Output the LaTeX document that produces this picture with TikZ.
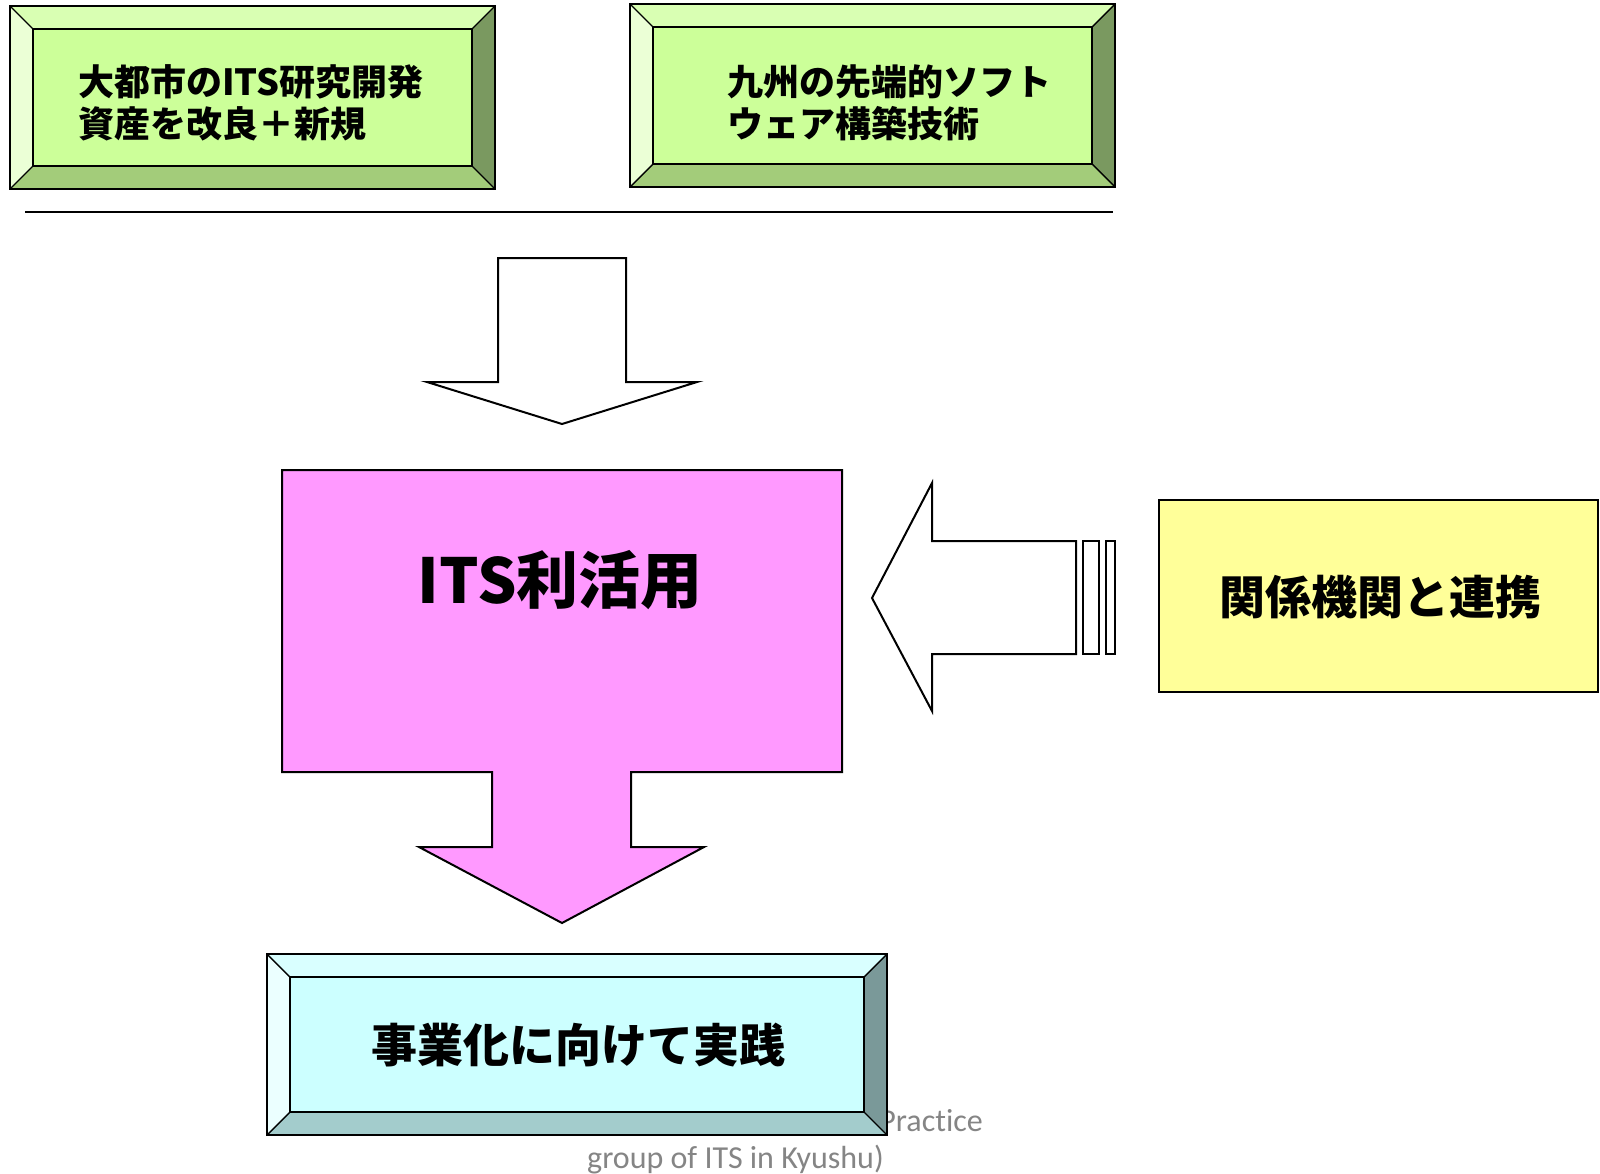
\documentclass[tikz,border=0pt]{standalone}
\usepackage{fontspec}
\newfontfamily\jpfont{Noto Sans CJK JP}
\newfontfamily\notefont{Carlito}[Ligatures=NoCommon]
\definecolor{grnF}{HTML}{CCFF99}
\definecolor{grnT}{HTML}{D9FFB3}
\definecolor{grnL}{HTML}{EBFFD6}
\definecolor{grnR}{HTML}{7A9960}
\definecolor{grnB}{HTML}{A3CC7A}
\definecolor{cynF}{HTML}{CCFFFF}
\definecolor{cynT}{HTML}{D9FFFF}
\definecolor{cynL}{HTML}{EBFFFF}
\definecolor{cynR}{HTML}{7A9999}
\definecolor{cynB}{HTML}{A3CCCC}
\definecolor{magF}{HTML}{FF99FF}
\definecolor{yelF}{HTML}{FFFF99}
\definecolor{noteG}{HTML}{858585}
\newcommand{\bevelfill}[6]{%
 \fill[#6T] (#1,#2) -- (#3,#2) -- ({#3-#5},{#2+#5}) -- ({#1+#5},{#2+#5}) -- cycle;
 \fill[#6B] (#1,#4) -- (#3,#4) -- ({#3-#5},{#4-#5}) -- ({#1+#5},{#4-#5}) -- cycle;
 \fill[#6L] (#1,#2) -- ({#1+#5},{#2+#5}) -- ({#1+#5},{#4-#5}) -- (#1,#4) -- cycle;
 \fill[#6R] (#3,#2) -- ({#3-#5},{#2+#5}) -- ({#3-#5},{#4-#5}) -- (#3,#4) -- cycle;
 \draw[outl] (#1,#2) rectangle (#3,#4);
 \draw[diag] (#1,#2) -- ({#1+#5},{#2+#5}) (#3,#2) -- ({#3-#5},{#2+#5})
   (#1,#4) -- ({#1+#5},{#4-#5}) (#3,#4) -- ({#3-#5},{#4-#5});
}
\begin{document}
\begin{tikzpicture}[x=1pt,y=-1pt,
  outl/.style={draw=black,line width=2pt},
  diag/.style={draw=black,line width=1.4pt},
  face/.style={outl,rectangle,inner sep=0pt},
  jptext/.style={font=\jpfont\bfseries\fontsize{36}{42}\selectfont,align=left,inner sep=0pt},
  bigtext/.style={font=\jpfont\bfseries\fontsize{46}{52}\selectfont,inner sep=0pt},
  note/.style={font=\notefont\fontsize{32}{38}\selectfont,text=noteG,inner sep=0pt},
  blockarrow/.style={draw=black,line width=2pt,line join=miter}]
\useasboundingbox[fill=white] (0,0) rectangle (1600,1173);

% gray note (partly hidden behind the bottom box)
\node[note,anchor=base east] (note1) at (983,1131) {Practice};
\node[note,anchor=base east] (note2) at (884,1168) {group of ITS in Kyushu)};

% top-left bevel box
\bevelfill{10}{6}{495}{189}{23}{grn}
\node[face,fill=grnF,minimum width=439pt,minimum height=137pt] (tlbox) at (252.5,97.5) {};
\node[jptext,anchor=west] (tltext) at (78,103) {大都市のITS研究開発\\資産を改良＋新規};

% top-right bevel box
\bevelfill{630}{4}{1115}{187}{23}{grn}
\node[face,fill=grnF,minimum width=439pt,minimum height=137pt] (trbox) at (872.5,95.5) {};
\node[jptext,anchor=west] (trtext) at (727,103) {九州の先端的ソフト\\ウェア構築技術};

% separator line
\coordinate (lineL) at (25,212);
\coordinate (lineR) at (1113,212);
\draw[line width=2pt] (lineL) -- (lineR);

% white down arrow
\draw[blockarrow,fill=white] (498,258) -- (626,258) -- (626,382) -- (697,382) -- (562,424)
  -- (427,382) -- (498,382) -- cycle;

% magenta box with down arrow
\draw[blockarrow,fill=magF] (282,470) -- (842,470) -- (842,772) -- (631,772) -- (631,847)
  -- (704,847) -- (562,923) -- (419,847) -- (492,847) -- (492,772) -- (282,772) -- cycle;
\node[font=\jpfont\bfseries\fontsize{62}{68}\selectfont,inner sep=0pt] (its) at (560,580) {ITS利活用};

% left arrow with bars
\draw[blockarrow,fill=white] (872,598) -- (932,483) -- (932,541) -- (1076,541) -- (1076,654)
  -- (932,654) -- (932,711) -- cycle;
\draw[outl,fill=white] (1083,541) rectangle (1099,654);
\draw[outl,fill=white] (1106,541) rectangle (1115,654);

% yellow box
\node[outl,fill=yelF,rectangle,minimum width=439pt,minimum height=192pt,inner sep=0pt] (ybox) at (1378.5,596) {};
\node[bigtext] (ytext) at (1380,597) {関係機関と連携};

% bottom bevel box
\bevelfill{267}{954}{887}{1135}{23}{cyn}
\node[face,fill=cynF,minimum width=574pt,minimum height=135pt] (bbox) at (577,1044.5) {};
\node[bigtext] (btext) at (578,1045) {事業化に向けて実践};
\end{tikzpicture}
\end{document}
